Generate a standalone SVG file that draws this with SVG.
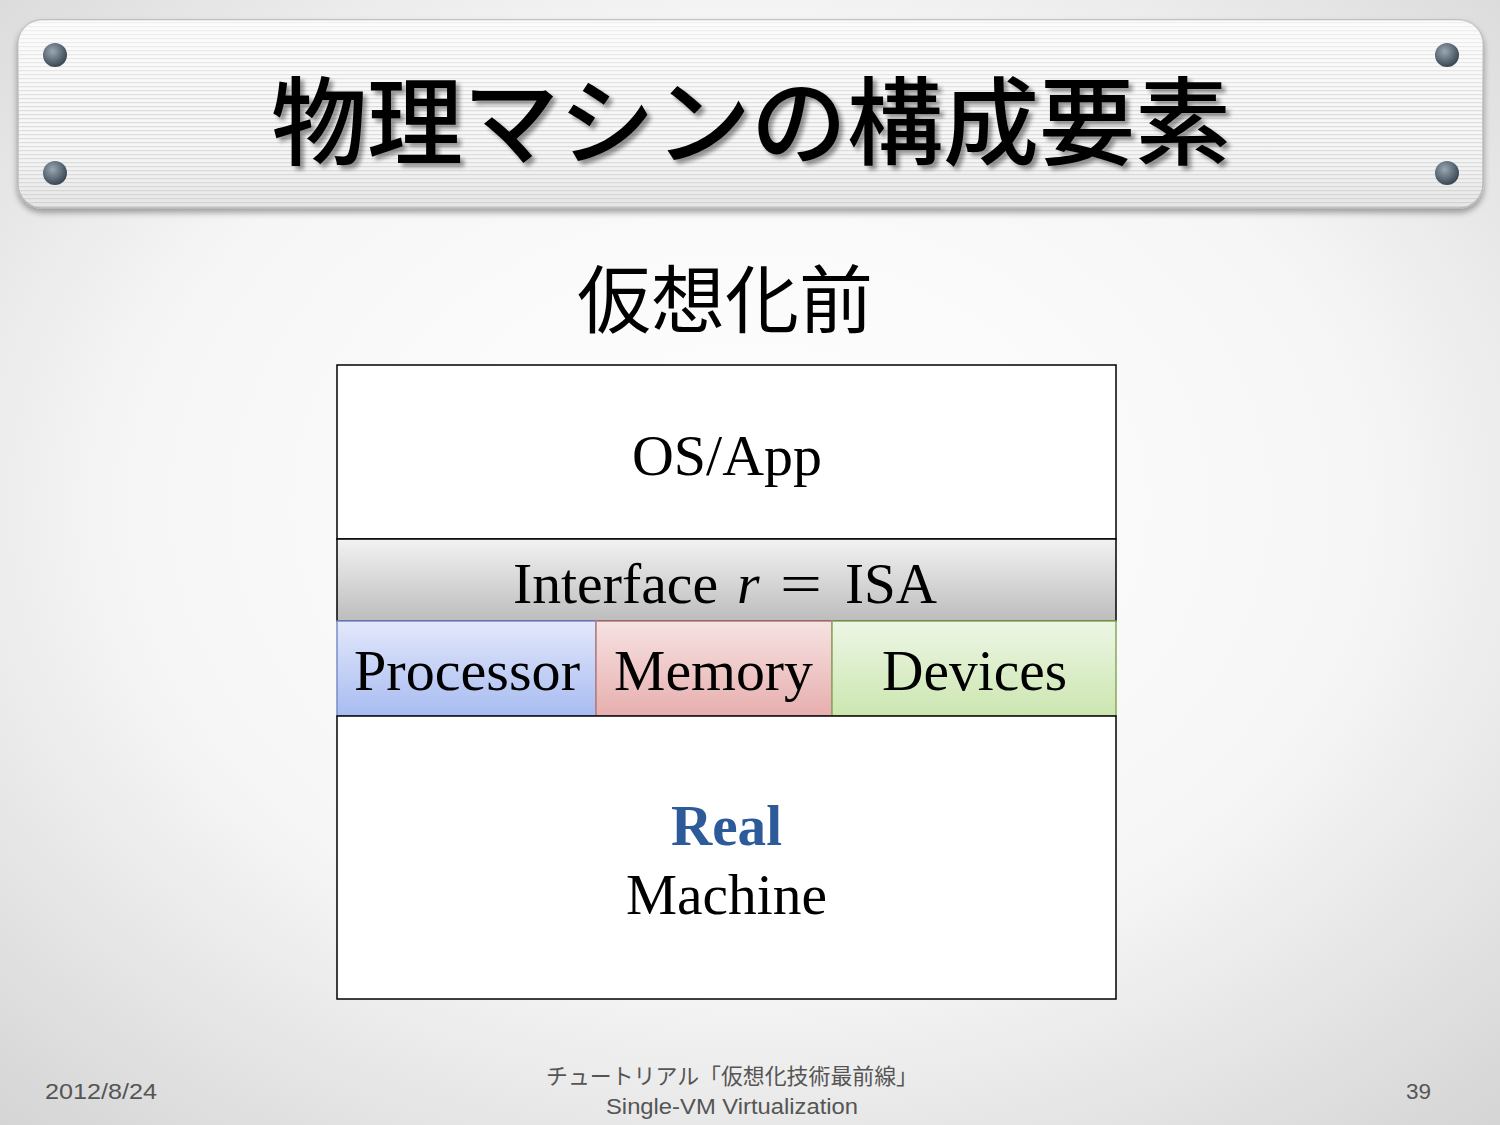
<svg xmlns="http://www.w3.org/2000/svg" width="1500" height="1125" viewBox="0 0 1500 1125">
  <defs>
    <radialGradient id="bg" cx="50%" cy="45%" r="75%">
      <stop offset="0" stop-color="#ffffff"/>
      <stop offset="0.55" stop-color="#f6f6f6"/>
      <stop offset="1" stop-color="#d4d4d4"/>
    </radialGradient>
    <pattern id="stripes" width="8" height="4" patternUnits="userSpaceOnUse">
      <rect width="8" height="4" fill="#f7f7f7"/>
      <rect y="2" width="8" height="1.2" fill="#dcdcdc"/>
    </pattern>
    <linearGradient id="bannerShade" x1="0" y1="0" x2="0" y2="1">
      <stop offset="0" stop-color="#ffffff" stop-opacity="0.6"/>
      <stop offset="0.5" stop-color="#ffffff" stop-opacity="0"/>
      <stop offset="1" stop-color="#bbbbbb" stop-opacity="0.3"/>
    </linearGradient>
    <radialGradient id="screw" cx="40%" cy="35%" r="65%">
      <stop offset="0" stop-color="#9aa8b4"/>
      <stop offset="0.6" stop-color="#5f6e7a"/>
      <stop offset="1" stop-color="#3c4650"/>
    </radialGradient>
    <linearGradient id="gIf" x1="0" y1="0" x2="0" y2="1">
      <stop offset="0" stop-color="#f2f2f2"/>
      <stop offset="1" stop-color="#bdbdbd"/>
    </linearGradient>
    <linearGradient id="gProc" x1="0" y1="0" x2="0" y2="1">
      <stop offset="0" stop-color="#e3e8fb"/>
      <stop offset="1" stop-color="#a8bcf1"/>
    </linearGradient>
    <linearGradient id="gMem" x1="0" y1="0" x2="0" y2="1">
      <stop offset="0" stop-color="#f7e3e3"/>
      <stop offset="1" stop-color="#e7aeae"/>
    </linearGradient>
    <linearGradient id="gDev" x1="0" y1="0" x2="0" y2="1">
      <stop offset="0" stop-color="#edf6e5"/>
      <stop offset="1" stop-color="#cce6b0"/>
    </linearGradient>
    <filter id="tshadow" x="-5%" y="-20%" width="110%" height="140%">
      <feGaussianBlur in="SourceAlpha" stdDeviation="2"/>
      <feOffset dx="4" dy="4" result="o"/>
      <feComponentTransfer><feFuncA type="linear" slope="0.4"/></feComponentTransfer>
      <feMerge><feMergeNode/><feMergeNode in="SourceGraphic"/></feMerge>
    </filter>
    <filter id="bshadow" x="-5%" y="-10%" width="110%" height="130%">
      <feGaussianBlur in="SourceAlpha" stdDeviation="3"/>
      <feOffset dx="0" dy="4"/>
      <feComponentTransfer><feFuncA type="linear" slope="0.35"/></feComponentTransfer>
      <feMerge><feMergeNode/><feMergeNode in="SourceGraphic"/></feMerge>
    </filter>
  </defs>
  <style>
    .jp { font-family: "Noto Sans CJK JP", "Noto Sans", sans-serif; }
    .serif { font-family: "Liberation Serif", "Times New Roman", serif; fill: #000; font-size: 58px; }
    .foot { font-family: "Liberation Sans", "Noto Sans CJK JP", sans-serif; fill: #555; font-size: 22px; }
    .cell { stroke-width: 1.5; }
  </style>

  <rect width="1500" height="1125" fill="url(#bg)"/>

  <g id="banner" filter="url(#bshadow)">
    <rect x="18" y="20" width="1465" height="188" rx="24" fill="url(#stripes)" stroke="#b8b8b8" stroke-width="1.5"/>
    <rect x="18" y="20" width="1465" height="188" rx="24" fill="url(#bannerShade)"/>
  </g>
  <g id="screws">
    <circle cx="55" cy="55" r="12" fill="url(#screw)"/>
    <circle cx="55" cy="173" r="12" fill="url(#screw)"/>
    <circle cx="1447" cy="55" r="12" fill="url(#screw)"/>
    <circle cx="1447" cy="173" r="12" fill="url(#screw)"/>
  </g>

  <g id="title">
    <text x="751" y="157" text-anchor="middle" class="jp" font-size="96" font-weight="500" fill="#000" filter="url(#tshadow)">物理マシンの構成要素</text>
  </g>

  <g id="subtitle">
    <text x="725" y="327" text-anchor="middle" class="jp" font-size="74" fill="#000">仮想化前</text>
  </g>

  <g id="osapp">
    <rect x="337" y="365" width="779" height="174" fill="#ffffff" stroke="#000" stroke-width="1.5"/>
    <text x="632" y="475" class="serif" textLength="190" lengthAdjust="spacingAndGlyphs">OS/App</text>
  </g>

  <g id="interface">
    <rect x="337" y="539" width="779" height="82" fill="url(#gIf)" stroke="#000" stroke-width="1.5"/>
    <text x="513" y="603" class="serif" textLength="205" lengthAdjust="spacingAndGlyphs">Interface</text>
    <text x="737" y="603" class="serif" font-style="italic">r</text>
    <text x="801" y="603" class="serif" text-anchor="middle" textLength="42" lengthAdjust="spacingAndGlyphs">=</text>
    <text x="845" y="603" class="serif" textLength="92" lengthAdjust="spacingAndGlyphs">ISA</text>
  </g>

  <g id="processor">
    <rect x="337" y="621" width="259" height="95" fill="url(#gProc)" stroke="#7a8cc8" class="cell"/>
    <text x="354" y="690" class="serif" textLength="226" lengthAdjust="spacingAndGlyphs">Processor</text>
  </g>

  <g id="memory">
    <rect x="596" y="621" width="236" height="95" fill="url(#gMem)" stroke="#b87c7c" class="cell"/>
    <text x="614" y="690" class="serif" textLength="199" lengthAdjust="spacingAndGlyphs">Memory</text>
  </g>

  <g id="devices">
    <rect x="832" y="621" width="284" height="95" fill="url(#gDev)" stroke="#86a95a" class="cell"/>
    <text x="882" y="690" class="serif" textLength="185" lengthAdjust="spacingAndGlyphs">Devices</text>
  </g>

  <g id="machine">
    <rect x="337" y="716" width="779" height="283" fill="#ffffff" stroke="#000" stroke-width="1.5"/>
    <text x="671" y="845" class="serif" font-weight="bold" textLength="111" lengthAdjust="spacingAndGlyphs" style="fill:#2d5b9a">Real</text>
    <text x="626" y="914" class="serif" textLength="201" lengthAdjust="spacingAndGlyphs">Machine</text>
  </g>

  <g id="connectors"></g>

  <g id="footer">
    <text x="45" y="1099" class="foot" textLength="112" lengthAdjust="spacingAndGlyphs">2012/8/24</text>
    <text x="732" y="1084" text-anchor="middle" class="foot" textLength="372" lengthAdjust="spacingAndGlyphs">チュートリアル「仮想化技術最前線」</text>
    <text x="732" y="1114" text-anchor="middle" class="foot" textLength="252" lengthAdjust="spacingAndGlyphs">Single-VM Virtualization</text>
    <text x="1406" y="1099" class="foot" textLength="25" lengthAdjust="spacingAndGlyphs">39</text>
  </g>
</svg>
